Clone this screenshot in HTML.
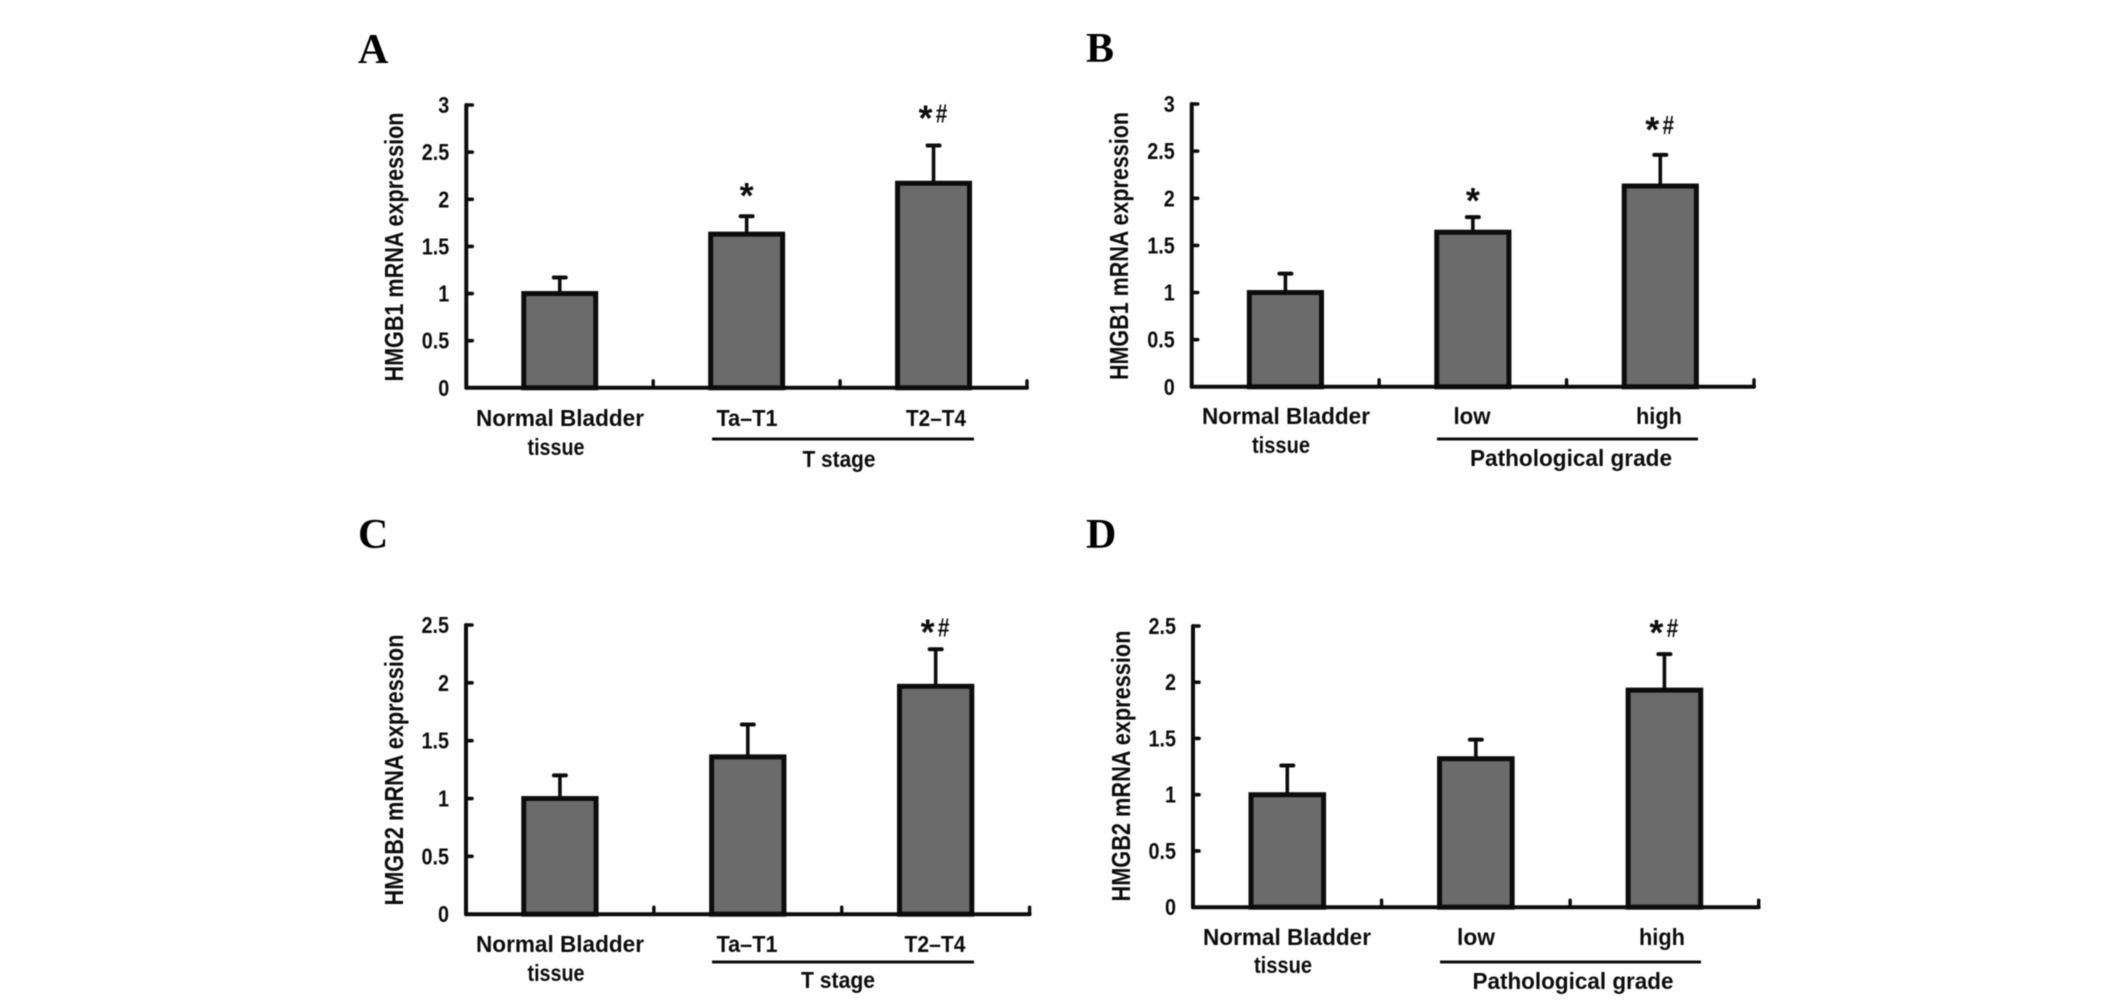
<!DOCTYPE html>
<html lang="en">
<head>
<meta charset="utf-8">
<title>HMGB1 and HMGB2 mRNA expression</title>
<style>
html,body{margin:0;padding:0;background:#fff;width:2126px;height:1007px;overflow:hidden}
svg{display:block;filter:blur(0.45px)}
text{font-family:"Liberation Sans",sans-serif;font-weight:bold;fill:#0c0c0c}
.letter{font-family:"Liberation Serif",serif;font-size:42px;fill:#000}
</style>
</head>
<body>
<svg id="figure" xmlns="http://www.w3.org/2000/svg" width="2126" height="1007" viewBox="0 0 2126 1007"></svg>
<script>
// Data
const panelIds = ["A", "B", "C", "D"];
const yTitles = ["HMGB1 mRNA expression", "HMGB1 mRNA expression", "HMGB2 mRNA expression", "HMGB2 mRNA expression"];
const groupTitles = ["T stage", "Pathological grade", "T stage", "Pathological grade"];
const categoriesA = ["Normal Bladder|tissue", "Ta–T1", "T2–T4"];
const categoriesB = ["Normal Bladder|tissue", "low", "high"];
const categoriesC = ["Normal Bladder|tissue", "Ta–T1", "T2–T4"];
const categoriesD = ["Normal Bladder|tissue", "low", "high"];
const valuesA = [1.0, 1.63, 2.17];
const valuesB = [1.0, 1.64, 2.13];
const valuesC = [1.0, 1.36, 1.97];
const valuesD = [1.0, 1.32, 1.93];
const errorTopsA = [1.17, 1.82, 2.57];
const errorTopsB = [1.2, 1.8, 2.46];
const errorTopsC = [1.2, 1.64, 2.29];
const errorTopsD = [1.26, 1.49, 2.25];
const marksA = ["", "*", "*#"];
const marksB = ["", "*", "*#"];
const marksC = ["", "", "*#"];
const marksD = ["", "", "*#"];
const ticksA = [0, 0.5, 1, 1.5, 2, 2.5, 3];
const ticksB = [0, 0.5, 1, 1.5, 2, 2.5, 3];
const ticksC = [0, 0.5, 1, 1.5, 2, 2.5];
const ticksD = [0, 0.5, 1, 1.5, 2, 2.5];

// Layout (pixels) kept separately from the data
const layouts = [
  {x0:466.3,x1:1027,y0:387.8,yT:105,lx:358,ly:63,tx:403,tc:247,tl:269,
   label1:[560,426,168],label2:[556,455,57],cat:[[747,426,61],[936,426,60]],rule:[712,974,439],group:[839,467,73],gap:[0,34,41]},
  {x0:1191.7,x1:1754,y0:386.8,yT:104,lx:1086,ly:62,tx:1128,tc:246,tl:268,
   label1:[1286,424,168],label2:[1281,453,58],cat:[[1472,424,37],[1659,424,46]],rule:[1437,1698,439],group:[1571,466,202],gap:[0,30,39]},
  {x0:466,x1:1029.6,y0:914.2,yT:625,lx:358,ly:548,tx:403,tc:770,tl:271,
   label1:[560,952,168],label2:[556,981,57],cat:[[747,952,61],[935,952,61]],rule:[712,974,962],group:[838,988,74],gap:[0,0,31]},
  {x0:1193,x1:1758.7,y0:907.2,yT:626,lx:1086,ly:548,tx:1130,tc:766,tl:271,
   label1:[1287,945,168],label2:[1283,973,58],cat:[[1476,945,38],[1662,945,46]],rule:[1440,1701,962],group:[1573,989,201],gap:[0,0,35]}
];

const categoriesAll = [categoriesA, categoriesB, categoriesC, categoriesD];
const valuesAll = [valuesA, valuesB, valuesC, valuesD];
const errorsAll = [errorTopsA, errorTopsB, errorTopsC, errorTopsD];
const marksAll = [marksA, marksB, marksC, marksD];
const ticksAll = [ticksA, ticksB, ticksC, ticksD];

const NS = "http://www.w3.org/2000/svg";
const figure = document.getElementById("figure");
const INK = "#0c0c0c";
const BAR_FILL = "#6b6b6b";

function make(tag, parent, attrs, content) {
  const el = document.createElementNS(NS, tag);
  for (const key in attrs) el.setAttribute(key, attrs[key]);
  if (content !== undefined) el.textContent = content;
  parent.appendChild(el);
  return el;
}
function line(parent, x1, y1, x2, y2, width) {
  return make("line", parent, {x1:x1, y1:y1, x2:x2, y2:y2, stroke:INK, "stroke-width":width, "stroke-linecap":"round"});
}
function stretchedText(parent, spec, str, size) {
  return make("text", parent, {x:spec[0], y:spec[1], "text-anchor":"middle", "font-size":size, textLength:spec[2], lengthAdjust:"spacingAndGlyphs"}, str);
}

panelIds.forEach(function (id, p) {
  const L = layouts[p];
  const ticks = ticksAll[p];
  const values = valuesAll[p];
  const tops = errorsAll[p];
  const marks = marksAll[p];
  const cats = categoriesAll[p];
  const yMax = ticks[ticks.length - 1];
  const yScale = function (v) { return L.y0 - (v / yMax) * (L.y0 - L.yT); };
  const band = (L.x1 - L.x0) / cats.length;
  const xCenter = function (i) { return L.x0 + (i + 0.5) * band; };
  const barWidth = band * 0.385;

  const g = make("g", figure, {});
  
  

  const letter = make("text", g, {x:L.lx, y:L.ly, class:"letter"}, id);
  
  

  const title = make("text", g, {transform:"translate(" + L.tx + "," + L.tc + ") rotate(-90)", "text-anchor":"middle", "font-size":26, textLength:L.tl, lengthAdjust:"spacingAndGlyphs"}, yTitles[p]);
  
  

  // bars and error bars
  values.forEach(function (v, i) {
    const cx = xCenter(i);
    const errStem = line(g, cx, yScale(v), cx, yScale(tops[i]), 3.6);
    
    
    const errCap = line(g, cx - 6, yScale(tops[i]), cx + 6, yScale(tops[i]), 4);
    
    
    const bar = make("rect", g, {x:cx - barWidth / 2, y:yScale(v), width:barWidth, height:L.y0 - yScale(v), fill:BAR_FILL, stroke:INK, "stroke-width":5});
    
    

    const m = marks[i];
    if (m) {
      const topY = yScale(tops[i]) - L.gap[i];
      const star = make("text", g, {x:m.length > 1 ? cx - 8 : cx, y:topY + 26, "text-anchor":"middle", "font-size":36}, "*");
      
      
      if (m.indexOf("#") >= 0) {
        const hash = make("text", g, {transform:"translate(" + (cx + 8) + "," + (topY + 18) + ") scale(0.8,1)", "text-anchor":"middle", "font-size":26}, "#");
        
        
      }
    }
  });

  // axes
  const yAxis = line(g, L.x0, L.yT, L.x0, L.y0, 4);
  
  
  const xAxis = line(g, L.x0, L.y0, L.x1, L.y0, 4);
  
  

  ticks.forEach(function (t) {
    const y = yScale(t);
    if (t > 0) {
      const mark = line(g, L.x0, y, L.x0 + 6, y, 3.6);
      
      
    }
    const label = make("text", g, {transform:"translate(" + (L.x0 - 17) + "," + (y + 8) + ") scale(0.86,1)", "text-anchor":"end", "font-size":23}, String(t));
    
    
  });
  cats.forEach(function (c, i) {
    const xt = L.x0 + (i + 1) * band;
    const tick = line(g, xt, L.y0, xt, L.y0 - 7, 3.4);
    
    
  });

  // category labels
  const firstLines = cats[0].split("|");
  const first = stretchedText(g, L.label1, firstLines[0], 23);
  
  
  const second = stretchedText(g, L.label2, firstLines[1], 23);
  
  
  [1, 2].forEach(function (i) {
    const c = stretchedText(g, L.cat[i - 1], cats[i], 23);
    
    
  });

  const rule = make("line", g, {x1:L.rule[0], y1:L.rule[2], x2:L.rule[1], y2:L.rule[2], stroke:INK, "stroke-width":3});
  
  
  const group = stretchedText(g, L.group, groupTitles[p], 23);
  
  
});
</script>
</body>
</html>
